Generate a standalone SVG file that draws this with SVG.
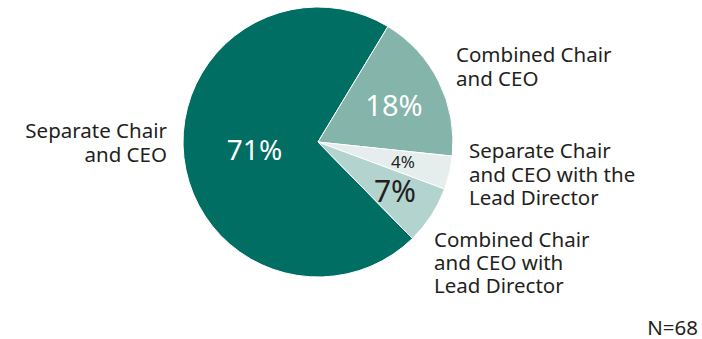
<svg xmlns="http://www.w3.org/2000/svg" width="702" height="339" viewBox="0 0 702 339">
<style>
.lbl{font-family:"Noto Sans","Open Sans",sans-serif;font-size:20.5px;fill:#231F20}
.pct{font-family:"Noto Sans","Open Sans",sans-serif}
.sl{stroke:#ffffff;stroke-width:1}
</style>
<rect width="702" height="339" fill="#ffffff"/>
<g id="slices">
<g id="slice-separate"><path class="sl" fill="#006E62" d="M318,142 L412.46,238.46 A135,135 0 1 1 387.93,26.52 Z"/></g>
<g id="slice-combined"><path class="sl" fill="#84B4AA" d="M318,142 L387.93,26.52 A135,135 0 0 1 452.26,156.11 Z"/></g>
<g id="slice-separate-lead"><path class="sl" fill="#E6EEED" d="M318,142 L452.26,156.11 A135,135 0 0 1 444.54,189.06 Z"/></g>
<g id="slice-combined-lead"><path class="sl" fill="#B3D3CF" d="M318,142 L444.54,189.06 A135,135 0 0 1 412.46,238.46 Z"/></g>
</g>
<g id="values">
<text class="pct" x="254.5" y="160" font-size="28" fill="#ffffff" text-anchor="middle">71%</text>
<text class="pct" x="394" y="116" font-size="29" fill="#ffffff" text-anchor="middle">18%</text>
<text class="pct" x="403" y="168" font-size="17" fill="#231F20" text-anchor="middle">4%</text>
<text class="pct" x="395" y="201.5" font-size="30" fill="#231F20" text-anchor="middle">7%</text>
</g>
<g id="labels">
<text class="lbl" text-anchor="end"><tspan x="167" y="138">Separate Chair</tspan><tspan x="167" y="161.5">and CEO</tspan></text>
<text class="lbl"><tspan x="456" y="62">Combined Chair</tspan><tspan x="456" y="86">and CEO</tspan></text>
<text class="lbl"><tspan x="469" y="158">Separate Chair</tspan><tspan x="469" y="181.5">and CEO with the</tspan><tspan x="469" y="205">Lead Director</tspan></text>
<text class="lbl"><tspan x="434" y="247">Combined Chair</tspan><tspan x="434" y="270">and CEO with</tspan><tspan x="434" y="293">Lead Director</tspan></text>
<text class="lbl" x="698" y="334.5" font-size="16" text-anchor="end">N=68</text>
</g>
</svg>
